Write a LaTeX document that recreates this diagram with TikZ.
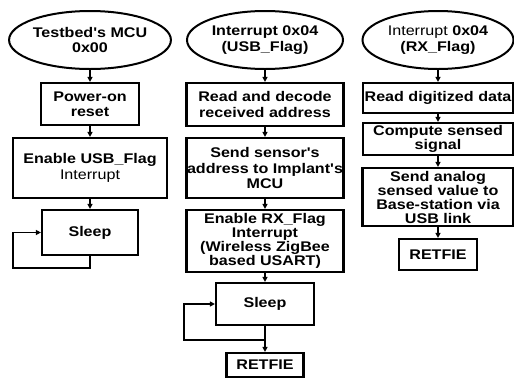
\documentclass[tikz,border=0pt]{standalone}
\usepackage{fontspec}
\newfontfamily\chartfont[FakeStretch=1.15]{Liberation Sans}
\usetikzlibrary{shapes.geometric,arrows.meta}

\begin{document}
\begin{tikzpicture}[x=1pt, y=-1pt, line width=1.6pt, ->, >={Triangle[length=5pt,width=5pt]},
    font=\chartfont\bfseries\fontsize{14}{15.5}\selectfont,
    term/.style = {draw, ellipse, line width=2pt, inner sep=0pt, align=center},
    proc/.style = {draw, rectangle, line width=2.2pt, inner sep=0pt, align=center},
    tight/.style = {font=\chartfont\bfseries\fontsize{14}{14}\selectfont}]
    \useasboundingbox (0,0) rectangle (514,378);

    % testbed MCU
    \node[term, minimum width=148, minimum height=58] (T1) at (90,40) {Testbed's MCU\\0x00};
    \node[proc, minimum width=98, minimum height=42] (P1) at (90,104) {Power-on\\reset};
    \node[proc, minimum width=154, minimum height=60] (E1) at (90,168) {Enable USB\_Flag\\{\mdseries Interrupt}};
    \node[proc, minimum width=96, minimum height=45] (S1) at (90,232.5) {Sleep};
    \coordinate (J1) at (90,268);
    \coordinate (L1) at (13,268);

    \draw (T1) -- (P1);
    \draw (P1) -- (E1);
    \draw (E1) -- (S1);
    \draw (S1.south) -- (J1) -- (L1) |- (S1.west);

    % USB_Flag interrupt
    \node[term, minimum width=156, minimum height=58] (T2) at (265,40) {Interrupt 0x04\\(USB\_Flag)};
    \node[proc, minimum width=157, minimum height=43] (R2) at (265,104.5) {Read and decode\\received address};
    \node[proc, minimum width=157, minimum height=60] (A2) at (265,168) {Send sensor's\\address to Implant's\\MCU};
    \node[proc, tight, minimum width=157, minimum height=62] (E2) at (265,241) {Enable RX\_Flag\\Interrupt\\(Wireless ZigBee\\based USART)};
    \node[proc, minimum width=98, minimum height=42] (S2) at (265,304) {Sleep};
    \node[proc, minimum width=77, minimum height=24] (F2) at (265,365) {RETFIE};
    \coordinate (J2) at (265,340);
    \coordinate (L2) at (184,340);

    \draw (T2) -- (R2);
    \draw (R2) -- (A2);
    \draw (A2) -- (E2);
    \draw (E2) -- (S2);
    \draw (S2) -- (F2);
    \draw (J2) -- (L2) |- (S2.west);

    % RX_Flag interrupt
    \node[term, minimum width=151, minimum height=58] (T3) at (438,40) {{\mdseries Interrupt} 0x04\\(RX\_Flag)};
    \node[proc, minimum width=150, minimum height=30] (D3) at (438,98) {Read digitized data};
    \node[proc, tight, minimum width=150, minimum height=32] (C3) at (438,139) {Compute sensed\\signal};
    \node[proc, tight, minimum width=151, minimum height=58] (V3) at (438,197) {Send analog\\sensed value to\\Base-station via\\USB link};
    \node[proc, minimum width=78, minimum height=31] (F3) at (438,254.5) {RETFIE};

    \draw (T3) -- (D3);
    \draw (D3) -- (C3);
    \draw (C3) -- (V3);
    \draw (V3) -- (F3);
\end{tikzpicture}
\end{document}
